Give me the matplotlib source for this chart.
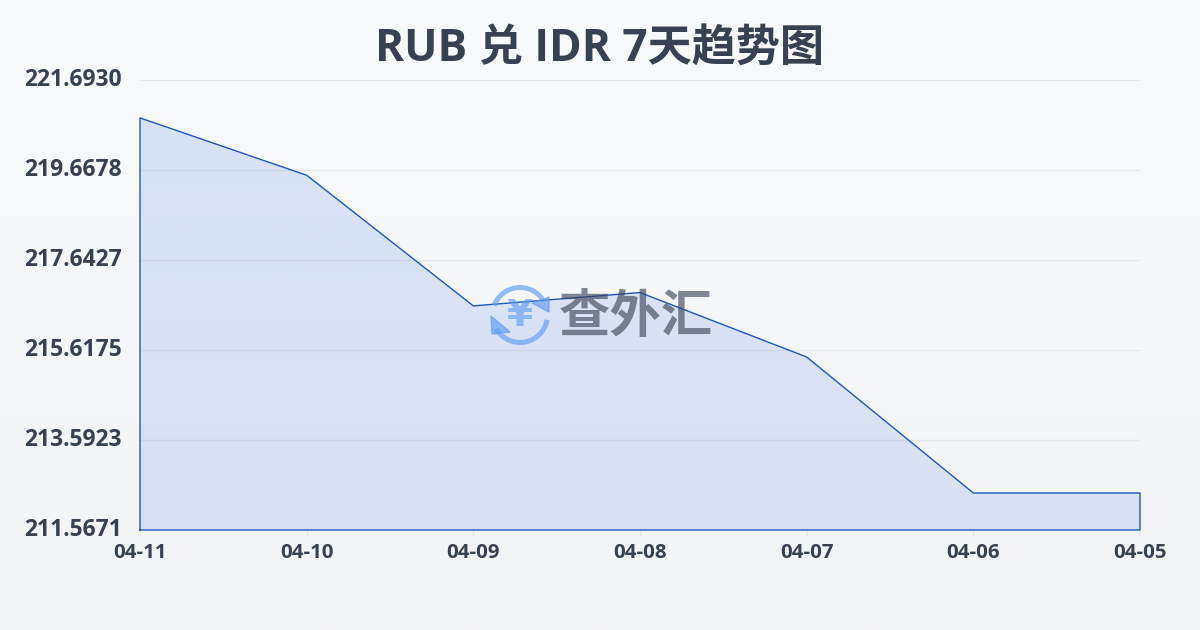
import numpy as np
import matplotlib
matplotlib.use("Agg")
import matplotlib.pyplot as plt
from matplotlib.patches import Arc, Polygon
from matplotlib.transforms import ScaledTranslation

plt.rcParams['font.family'] = ['Open Sans', 'Noto Sans CJK SC', 'DejaVu Sans']

dates = ["04-11", "04-10", "04-09", "04-08", "04-07", "04-06", "04-05"]
rates = [220.84, 219.55, 216.61, 216.91, 215.46, 212.40, 212.40]
yticks = [211.5671, 213.5923, 215.6175, 217.6427, 219.6678, 221.6930]
title = "RUB 兑 IDR 7天趋势图"

text_color = "#374151"
line_color = "#1f57bd"
logo_color = "#5f9cf5"

fig = plt.figure(figsize=(12, 6.3), dpi=100)

# page background, light vertical gradient
bg = fig.add_axes([0, 0, 1, 1], zorder=0)
grad = np.linspace(0, 1, 256).reshape(-1, 1)
bg_cmap = matplotlib.colors.LinearSegmentedColormap.from_list("bg", ["#f9fafc", "#f3f4f6"])
bg.imshow(grad, aspect="auto", cmap=bg_cmap, extent=[0, 1200, 630, 0])
bg.axis("off")

ax = fig.add_axes([140 / 1200, 100 / 630, 1000 / 1200, 450 / 630], zorder=1)
ax.patch.set_alpha(0)
x = np.arange(len(dates))

# translucent area fill over the grid, clipped to the series shape
fill = np.zeros((256, 1, 4))
fill[..., :3] = matplotlib.colors.to_rgb("#2563eb")
fill[..., 3] = np.linspace(0.15, 0.13, 256).reshape(-1, 1)
img = ax.imshow(fill, aspect="auto", zorder=1,
                extent=[0, len(dates) - 1, yticks[0], yticks[-1]])
shape = Polygon(list(zip(x, rates)) + [(x[-1], yticks[0]), (x[0], yticks[0])],
                closed=True, transform=ax.transData, facecolor="none", edgecolor="none")
ax.add_patch(shape)
img.set_clip_path(shape)
ax.set_xlim(0, len(dates) - 1)
ax.set_ylim(yticks[0], yticks[-1])

ax.grid(axis="y", color="#e5e7eb", linewidth=1)
ax.set_axisbelow(True)
ax.plot(np.r_[x[0], x, x[-1], x[0]], np.r_[yticks[0], rates, yticks[0], yticks[0]],
        color=line_color, linewidth=1, zorder=3, clip_on=False)

for s in ax.spines.values():
    s.set_visible(False)
ax.set_xticks(x)
ax.set_xticklabels(dates, fontsize=14.7, fontweight="bold", color=text_color)
ax.set_yticks(yticks)
ax.set_yticklabels(["%.4f" % v for v in yticks], fontsize=16.5, fontweight="bold", color=text_color)
ax.tick_params(axis="x", length=4, width=1, color="#e5e7eb", pad=5)
ax.tick_params(axis="y", length=0, pad=13)
up = ScaledTranslation(0, 0.3 / 72, fig.dpi_scale_trans)
for lab in ax.get_yticklabels():
    lab.set_verticalalignment("center")
    lab.set_transform(lab.get_transform() + up)

fig.text(0.4992, 1 - 49 / 630, title, ha="center", va="center", fontsize=31.8,
         fontweight="bold", color=text_color)

# watermark on top, in pixel coordinates
wm = fig.add_axes([0, 0, 1, 1], zorder=2)
wm.set_xlim(0, 1200)
wm.set_ylim(630, 0)
wm.axis("off")
cx, cy = 520, 315
wm.add_patch(Arc((cx, cy), 55, 55, theta1=200, theta2=325, color=logo_color, lw=3.6, alpha=0.65))
wm.add_patch(Arc((cx, cy), 55, 55, theta1=10, theta2=150, color=logo_color, lw=3.6, alpha=0.65))
wm.add_patch(Polygon([(491, 316), (510, 332), (492, 334)], closed=True, color=logo_color, alpha=0.65))
wm.add_patch(Polygon([(549, 297), (549, 312), (532, 303)], closed=True, color=logo_color, alpha=0.65))
wm.text(cx, cy + 1, "¥", ha="center", va="center", fontsize=27, fontweight="bold",
        color=logo_color, alpha=0.65, family=["DejaVu Sans"])
wm.text(636, 319, "查外汇", ha="center", va="center", fontsize=37, fontweight="bold",
        color="#374151", alpha=0.62)

fig.savefig("out.png", dpi=100)
